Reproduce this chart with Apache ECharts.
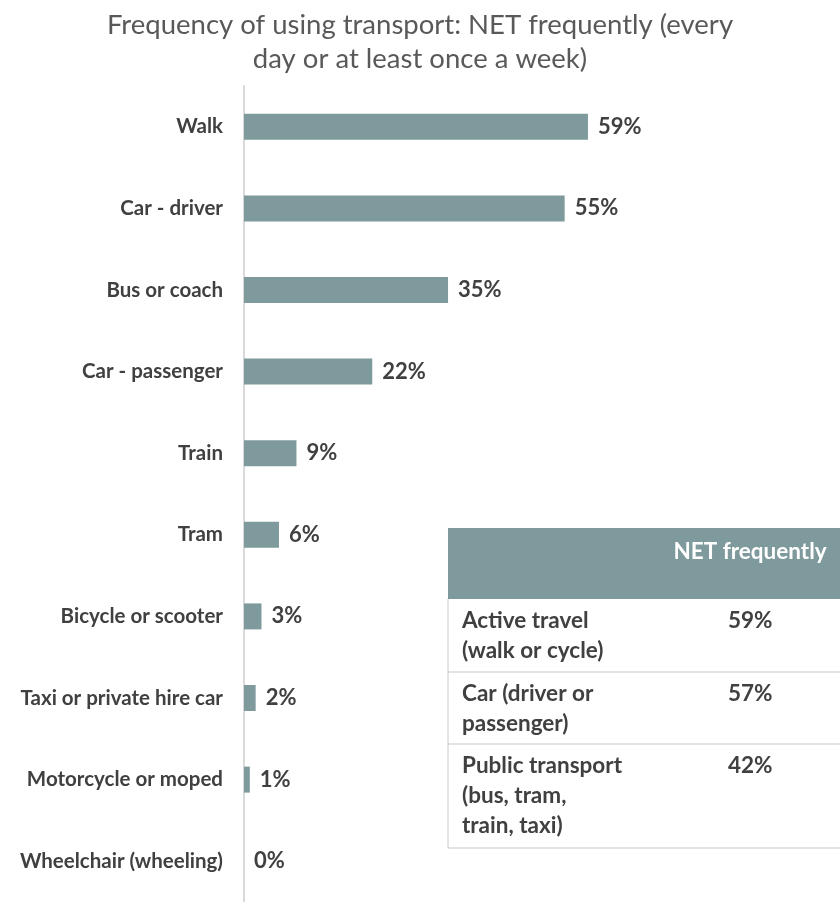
<!DOCTYPE html>
<html>
<head>
<meta charset="utf-8">
<script src="https://cdn.jsdelivr.net/npm/echarts@6/dist/echarts.min.js"></script>
<style>
  html, body { margin: 0; padding: 0; background: #ffffff; }
  #chart { width: 840px; height: 902px; }
</style>
</head>
<body>
<div id="chart"></div>
<script>
// Share of people using each mode every day or at least once a week (%)
const categories = [
  'Walk', 'Car - driver', 'Bus or coach', 'Car - passenger', 'Train',
  'Tram', 'Bicycle or scooter', 'Taxi or private hire car',
  'Motorcycle or moped', 'Wheelchair (wheeling)'
];
const values = [59, 55, 35, 22, 9, 6, 3, 2, 1, 0];

// Summary table: grouped modes
const tableHeader = 'NET frequently';
const tableGroups = [
  'Active travel\n(walk or cycle)',
  'Car (driver or\npassenger)',
  'Public transport\n(bus, tram,\ntrain, taxi)'
];
const tableValues = [59, 57, 42];

const titleText = 'Frequency of using transport: NET frequently (every\nday or at least once a week)';

const FONT = 'Lato, "Open Sans", sans-serif';
const BAR = '#7F9A9C';
const TEXT = '#404040';

// Table layout
const tX = 448, tW = 420;
const headTop = 528, headBottom = 599;
const rowBottoms = [672, 744, 848];
const TFONT = 'bold 22.5px ' + FONT;

const graphic = [];
graphic.push({
  type: 'rect', shape: { x: tX, y: headTop, width: tW, height: headBottom - headTop },
  style: { fill: BAR }, silent: true
});
graphic.push({
  type: 'text', x: 750, y: 552,
  style: { text: tableHeader, fill: '#ffffff', font: TFONT, align: 'center', verticalAlign: 'middle' },
  silent: true
});
graphic.push({
  type: 'line', shape: { x1: tX, y1: headBottom, x2: tX, y2: rowBottoms[rowBottoms.length - 1] },
  style: { stroke: '#c9c9c9', lineWidth: 1 }, silent: true
});
let rowTop = headBottom;
tableGroups.forEach((g, i) => {
  graphic.push({
    type: 'text', x: 462, y: rowTop + 7,
    style: { text: g, fill: TEXT, font: TFONT, lineHeight: 30, verticalAlign: 'top' },
    silent: true
  });
  graphic.push({
    type: 'text', x: 728, y: rowTop + 7,
    style: { text: tableValues[i] + '%', fill: TEXT, font: TFONT, lineHeight: 30, verticalAlign: 'top' },
    silent: true
  });
  graphic.push({
    type: 'line', shape: { x1: tX, y1: rowBottoms[i], x2: tX + tW, y2: rowBottoms[i] },
    style: { stroke: '#c9c9c9', lineWidth: 1 }, silent: true
  });
  rowTop = rowBottoms[i];
});

const chart = echarts.init(document.getElementById('chart'), null, { renderer: 'canvas' });
chart.setOption({
  backgroundColor: '#ffffff',
  animation: false,
  title: {
    text: titleText,
    left: 'center',
    top: 3,
    textStyle: { fontFamily: FONT, fontWeight: 'normal', fontSize: 27.5, lineHeight: 34, color: '#595959' }
  },
  grid: { left: 244, top: 86, width: 583, height: 821 },
  xAxis: { type: 'value', min: 0, max: 100, show: false },
  yAxis: {
    type: 'category',
    data: categories,
    inverse: true,
    axisLine: { show: true, lineStyle: { color: '#d9d9d9', width: 2 } },
    axisTick: { show: false },
    axisLabel: { margin: 21, fontFamily: FONT, fontWeight: 'bold', fontSize: 20.5, color: TEXT }
  },
  series: [{
    type: 'bar',
    data: values,
    barWidth: 26,
    itemStyle: { color: BAR },
    label: {
      show: true, position: 'right', distance: 10,
      formatter: '{c}%',
      fontFamily: FONT, fontWeight: 'bold', fontSize: 22, color: TEXT
    }
  }],
  graphic: graphic
});
</script>
</body>
</html>
